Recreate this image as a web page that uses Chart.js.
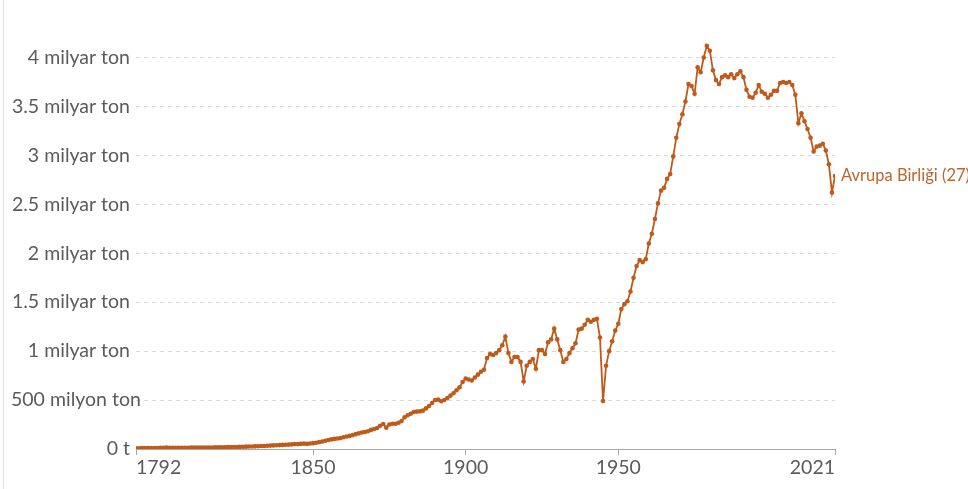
<!DOCTYPE html>
<html lang="tr">
<head>
    <meta charset="UTF-8">
    <title>Avrupa Birliği (27) - CO2 emisyonları</title>
    <script src="https://cdn.jsdelivr.net/npm/chart.js@4.4.0/dist/chart.umd.min.js"></script>
    <style>
        html, body { margin: 0; padding: 0; background: #fff; }
        .wrap { position: relative; width: 968px; height: 489px; }
        .wrap::before { content: ""; position: absolute; left: 3px; top: 0; bottom: 0; border-left: 1px solid #e3e3e3; }
    </style>
</head>
<body>
    <div class="wrap">
        <canvas id="co2Chart" width="968" height="489"></canvas>
    </div>

    <script>
        // ----------------------
        // Veri (milyar ton), 1792 - 2021
        // ----------------------
        const firstYear = 1792;
        const seriesName = 'Avrupa Birliği (27)';

        const emissions = [
            // 1792-1799
            0.008, 0.008, 0.009, 0.009, 0.009, 0.010, 0.010, 0.010,
            // 1800-1849
            0.011, 0.011, 0.015, 0.012, 0.012, 0.012, 0.012, 0.013, 0.013, 0.013,
            0.014, 0.014, 0.014, 0.014, 0.015, 0.015, 0.016, 0.016, 0.017, 0.017,
            0.018, 0.018, 0.019, 0.020, 0.020, 0.021, 0.022, 0.023, 0.024, 0.025,
            0.026, 0.027, 0.028, 0.030, 0.031, 0.033, 0.035, 0.037, 0.039, 0.040,
            0.042, 0.044, 0.045, 0.047, 0.050, 0.050, 0.052, 0.055, 0.052, 0.056,
            // 1850-1899
            0.060, 0.064, 0.070, 0.076, 0.084, 0.092, 0.098, 0.103, 0.108, 0.112,
            0.120, 0.127, 0.134, 0.142, 0.152, 0.160, 0.168, 0.174, 0.182, 0.195,
            0.205, 0.215, 0.238, 0.255, 0.218, 0.250, 0.258, 0.258, 0.268, 0.285,
            0.325, 0.345, 0.360, 0.378, 0.382, 0.385, 0.392, 0.415, 0.440, 0.470,
            0.500, 0.505, 0.488, 0.500, 0.520, 0.545, 0.570, 0.600, 0.630, 0.685,
            // 1900-1949
            0.72, 0.71, 0.70, 0.73, 0.76, 0.79, 0.81, 0.93, 0.97, 0.96,
            0.98, 1.01, 1.06, 1.15, 0.98, 0.89, 0.94, 0.94, 0.89, 0.69,
            0.85, 0.89, 0.92, 0.82, 1.01, 1.01, 0.97, 1.09, 1.12, 1.23,
            1.12, 1.01, 0.89, 0.92, 0.98, 1.03, 1.08, 1.22, 1.23, 1.27,
            1.32, 1.30, 1.32, 1.33, 1.14, 0.49, 0.85, 1.00, 1.10, 1.21,
            // 1950-1999
            1.28, 1.43, 1.48, 1.51, 1.61, 1.75, 1.87, 1.93, 1.91, 1.94,
            2.10, 2.20, 2.35, 2.51, 2.64, 2.67, 2.76, 2.81, 2.99, 3.18,
            3.32, 3.42, 3.55, 3.73, 3.71, 3.63, 3.90, 3.85, 4.00, 4.12,
            4.07, 3.87, 3.77, 3.73, 3.80, 3.82, 3.80, 3.83, 3.79, 3.83,
            3.86, 3.80, 3.67, 3.60, 3.59, 3.64, 3.72, 3.65, 3.63, 3.59,
            // 2000-2021
            3.62, 3.66, 3.66, 3.74, 3.75, 3.74, 3.75, 3.72, 3.62, 3.33,
            3.43, 3.35, 3.27, 3.18, 3.04, 3.09, 3.10, 3.12, 3.05, 2.91,
            2.62, 2.79
        ];

        const xTickYears = [1792, 1850, 1900, 1950, 2021];
        const yTickValues = [0, 0.5, 1, 1.5, 2, 2.5, 3, 3.5, 4];
        const yTickLabels = ['0 t', '500 milyon ton', '1 milyar ton', '1.5 milyar ton', '2 milyar ton',
                             '2.5 milyar ton', '3 milyar ton', '3.5 milyar ton', '4 milyar ton'];

        // ----------------------
        // Grafik
        // ----------------------
        const lineColor = '#bf5a1a';
        const fontFamily = 'Lato, "DejaVu Sans", sans-serif';
        const points = emissions.map((v, i) => ({ x: firstYear + i, y: v }));

        // y ekseni etiketleri: sağa hizalı, sol kenara taşanlar içeri itilir
        const yLabels = {
            id: 'yLabels',
            afterDraw(chart) {
                const y = chart.scales.y;
                const ctx = chart.ctx;
                ctx.save();
                ctx.font = '19.5px ' + fontFamily;
                ctx.fillStyle = '#5b5b5b';
                ctx.textBaseline = 'middle';
                ctx.textAlign = 'left';
                yTickValues.forEach((v, i) => {
                    const text = yTickLabels[i];
                    const w = ctx.measureText(text).width;
                    const left = Math.max(11, y.right - 6 - w);
                    ctx.fillText(text, left, y.getPixelForValue(v));
                });
                ctx.restore();
            }
        };

        // serinin sonuna isim etiketi
        const endLabel = {
            id: 'endLabel',
            afterDatasetsDraw(chart) {
                const meta = chart.getDatasetMeta(0);
                const last = meta.data[meta.data.length - 1];
                const ctx = chart.ctx;
                ctx.save();
                ctx.font = '16.5px ' + fontFamily;
                ctx.fillStyle = '#c0642c';
                ctx.textBaseline = 'middle';
                ctx.fillText(seriesName, last.x + 6, last.y);
                ctx.restore();
            }
        };

        new Chart(document.getElementById('co2Chart').getContext('2d'), {
            type: 'line',
            data: {
                datasets: [{
                    label: seriesName,
                    data: points,
                    borderColor: lineColor,
                    backgroundColor: lineColor,
                    borderWidth: 1.8,
                    pointRadius: 2.3,
                    pointBorderWidth: 0,
                    pointBackgroundColor: lineColor,
                    tension: 0
                }]
            },
            options: {
                responsive: false,
                animation: false,
                layout: { padding: { left: 0, right: 133, top: 38, bottom: 0 } },
                plugins: { legend: { display: false }, tooltip: { enabled: false } },
                scales: {
                    x: {
                        type: 'linear',
                        min: firstYear,
                        max: 2021,
                        afterBuildTicks: s => { s.ticks = xTickYears.map(v => ({ value: v })); },
                        afterFit: s => { s.height = 40; },
                        border: { display: true, color: '#a8a8a8', width: 1 },
                        grid: { drawOnChartArea: false, drawTicks: true, tickLength: 6, color: '#a8a8a8' },
                        ticks: {
                            align: 'inner',
                            maxRotation: 0,
                            padding: 1,
                            color: '#5b5b5b',
                            font: { family: fontFamily, size: 19.5 },
                            callback: v => String(v)
                        }
                    },
                    y: {
                        min: 0,
                        max: 4.2,
                        afterBuildTicks: s => { s.ticks = yTickValues.map(v => ({ value: v })); },
                        afterFit: s => { s.width = 136; },
                        border: { display: false, dash: [4, 4] },
                        grid: {
                            drawTicks: false,
                            color: ctx => ctx.tick && ctx.tick.value === 0 ? 'rgba(0,0,0,0)' : '#dadada',
                            lineWidth: 1
                        },
                        ticks: { display: false }
                    }
                }
            },
            plugins: [yLabels, endLabel]
        });
    </script>
</body>
</html>
